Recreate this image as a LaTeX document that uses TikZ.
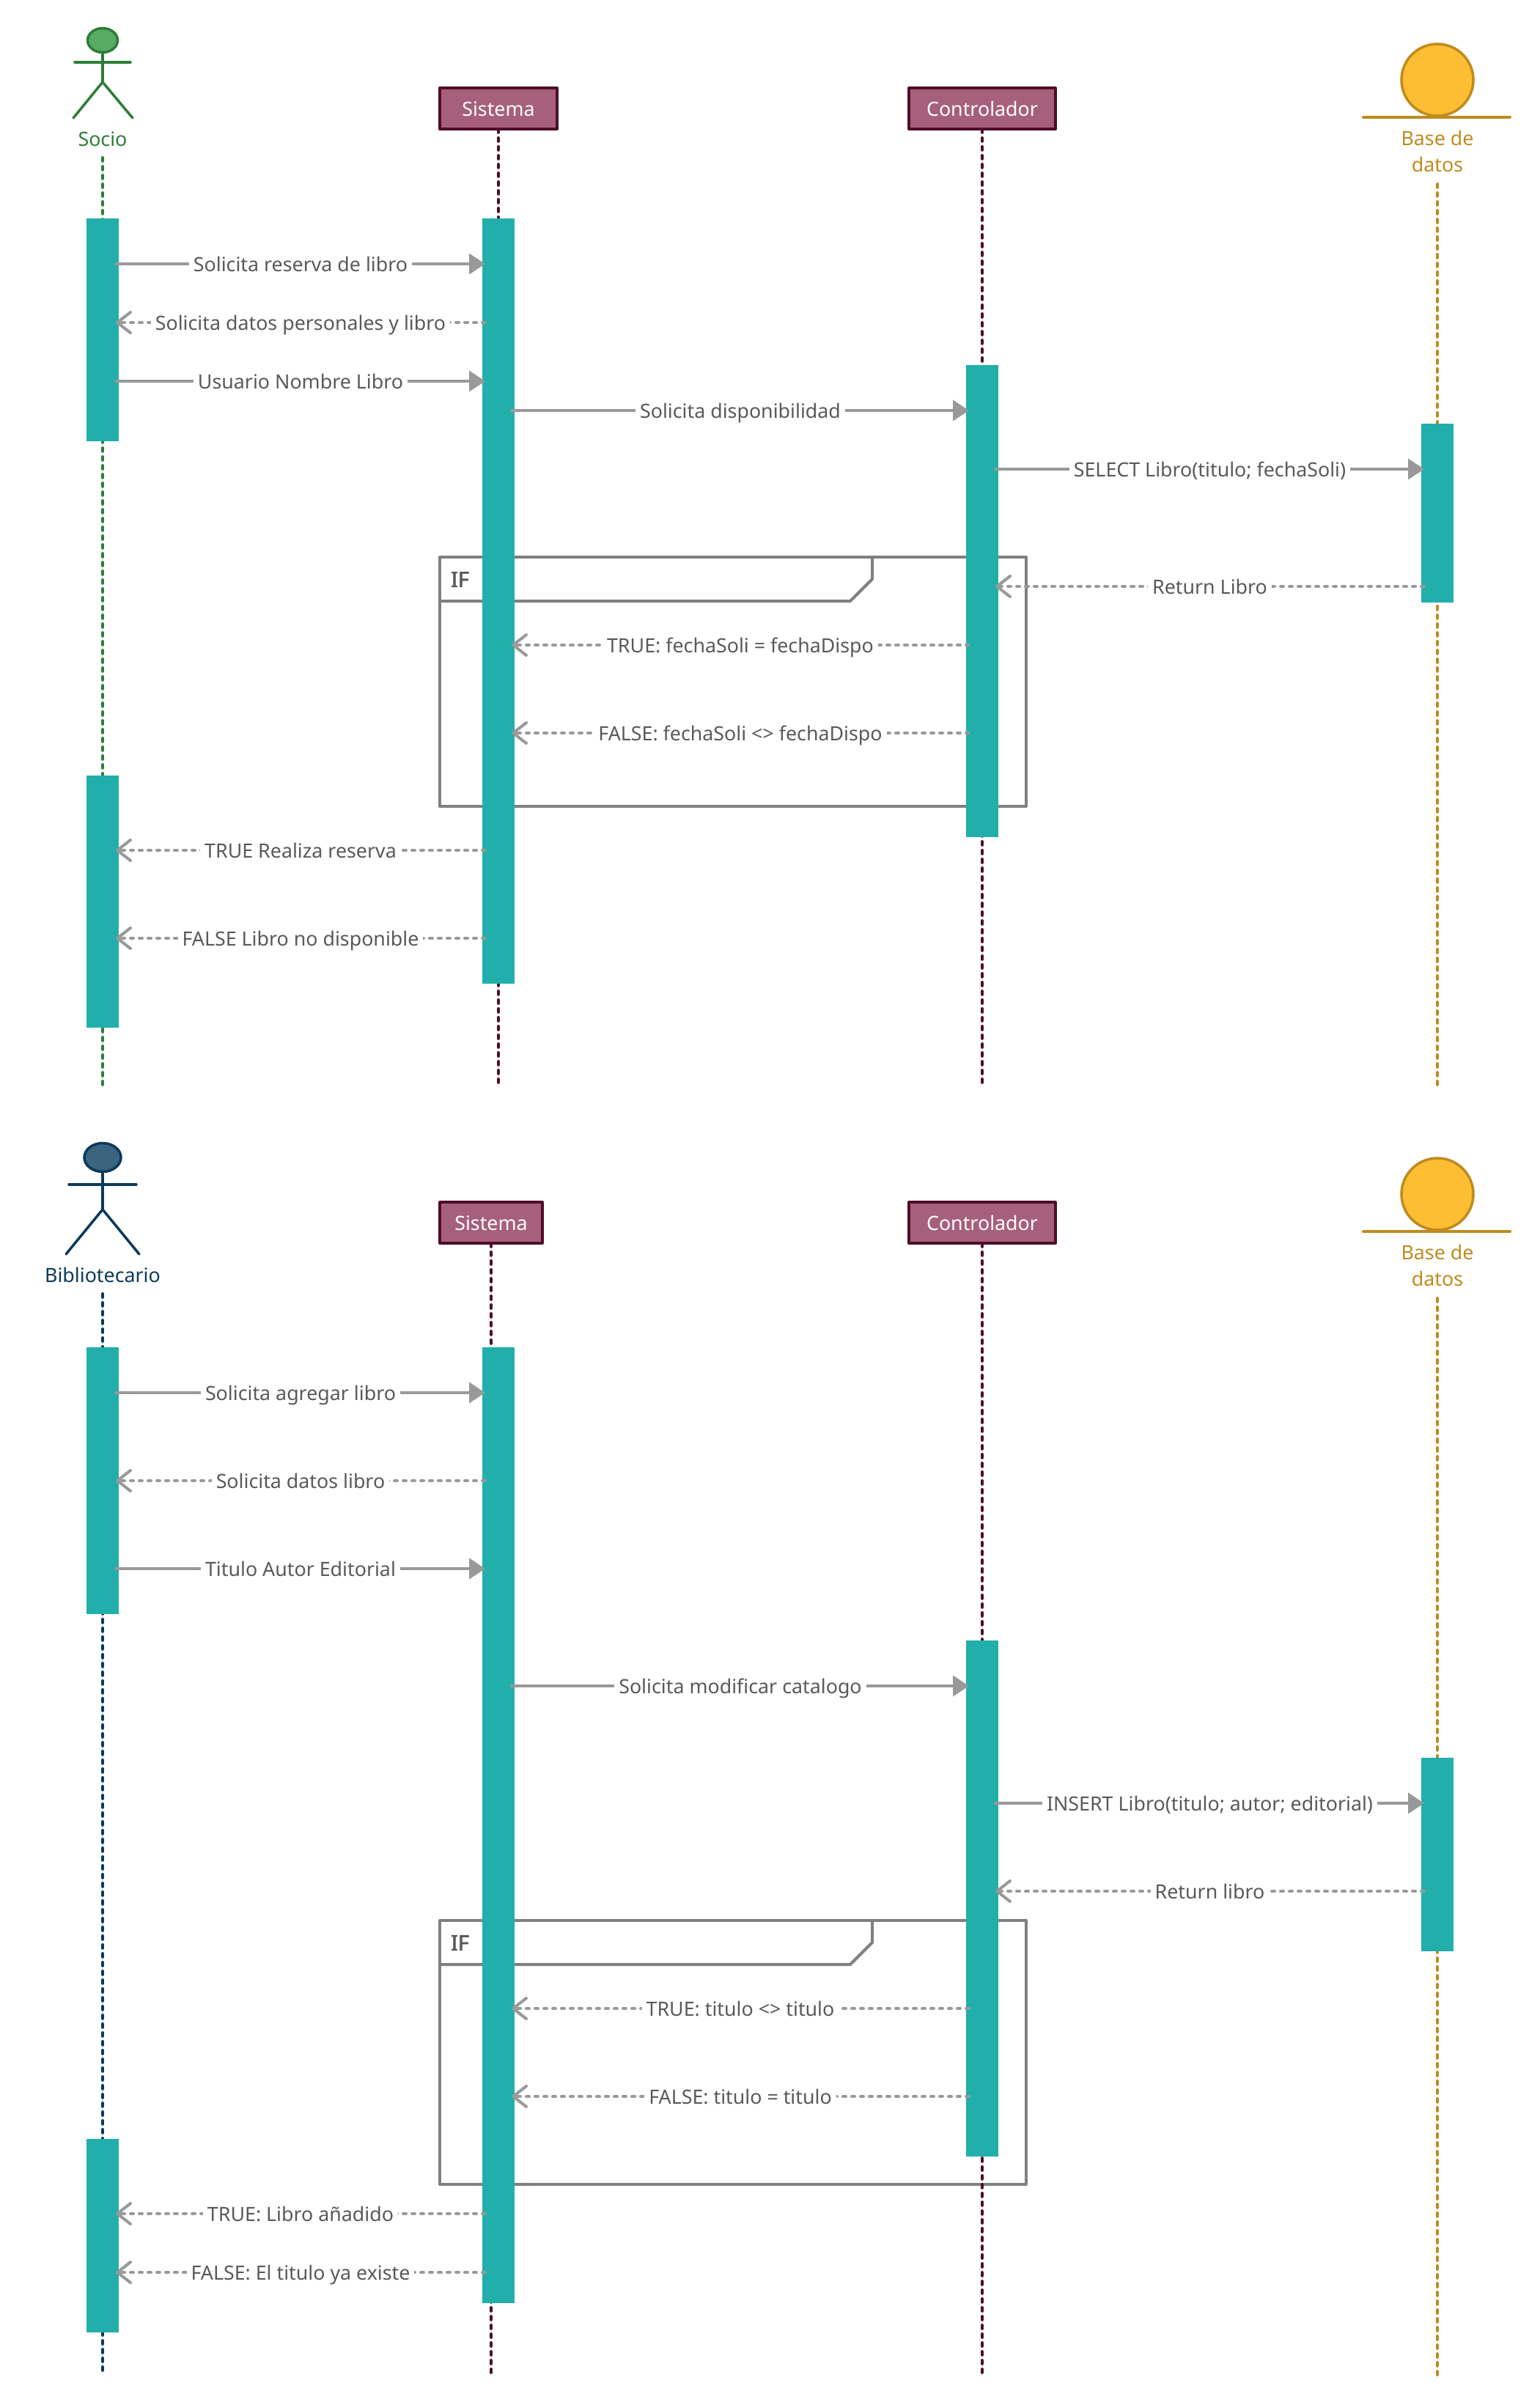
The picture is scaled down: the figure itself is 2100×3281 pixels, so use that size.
\documentclass[tikz,border=0pt]{standalone}
\usepackage{fontspec}
\setmainfont{Noto Sans}
\newfontfamily\ifheavy[FakeBold=2]{Noto Sans}
\usepackage{xcolor}
\usetikzlibrary{arrows.meta, shapes.geometric}

\definecolor{barteal}{HTML}{22AFAB}
\definecolor{msggray}{HTML}{999999}
\definecolor{msgtext}{HTML}{595959}
\definecolor{framegray}{HTML}{808080}
\definecolor{boxfill}{HTML}{A6607A}
\definecolor{boxline}{HTML}{4F0D29}
\definecolor{socioline}{HTML}{2E7D3A}
\definecolor{sociofill}{HTML}{57AB62}
\definecolor{biblioline}{HTML}{0A3A5C}
\definecolor{bibliofill}{HTML}{3B657F}
\definecolor{dbline}{HTML}{BF8B1E}
\definecolor{dbfill}{HTML}{FEBE33}

\tikzset{
	actbar/.style={rectangle,fill=barteal,minimum width=22pt,inner sep=0pt,outer sep=0pt},
	objbox/.style={rectangle,draw=boxline,fill=boxfill,line width=2pt,line join=round,text=white,font=\fontsize{13.4}{15}\selectfont,text height=10pt,text depth=0pt,minimum height=28pt,inner sep=0pt,outer sep=0pt},
	lifeline/.style={line width=2pt,line cap=round,dash pattern=on 2.4pt off 3.6pt},
	limb/.style={line width=1.75pt,line cap=round,line join=round},
	msglabel/.style={fill=white,text=msgtext,font=\fontsize{13.4}{15}\selectfont,text height=10pt,text depth=0pt,inner xsep=3pt,inner ysep=0pt,pos=0.5},
	sync/.style={msggray,line width=2pt,line cap=round,-{Triangle[length=11pt,width=14pt]}},
	reply/.style={msggray,line width=2pt,line cap=round,dash pattern=on 2pt off 4pt,-{Straight Barb[length=9pt,width=14pt,round,line width=2pt]}},
	frameline/.style={framegray,line width=2pt,line join=round},
	framebox/.style={rectangle,draw=framegray,line width=2pt,line join=round,minimum width=400pt,minimum height=170pt,inner sep=0pt,outer sep=0pt},
	iflabel/.style={text=msgtext,font=\ifheavy\fontsize{14.5}{15}\selectfont,inner sep=0pt},
	actorname/.style={font=\fontsize{13.4}{15}\selectfont,text height=10pt,text depth=0pt,inner sep=0pt},
	dbname/.style={text=dbline,align=center,font=\fontsize{13.4}{18}\selectfont,inner sep=0pt}
}

\begin{document}
\begin{tikzpicture}[x=0.5pt,y=-0.5pt]
	\useasboundingbox (0,0) rectangle (2100,3281);

	% reserva: frame first, bars go over it
	\node[framebox](frameA) at (1000,930) {};
	\draw[frameline] (600,820) -- (1160,820) -- (1190,790) -- (1190,760);
	\node[iflabel](ifA) at (627.5,790.5) {IF};

	% reserva: socio
	\node[ellipse,draw=socioline,fill=sociofill,line width=1.75pt,minimum width=20.5pt,minimum height=16.5pt,inner sep=0pt,outer sep=0pt](socioHead) at (140,55) {};
	\coordinate (socioArmL) at (102,85);
	\coordinate (socioArmR) at (178,85);
	\coordinate (socioHip) at (140,112);
	\coordinate (socioLegL) at (100,161);
	\coordinate (socioLegR) at (181,161);
	\draw[limb,socioline] (socioHead.south) -- (socioHip);
	\draw[limb,socioline] (socioArmL) -- (socioArmR);
	\draw[limb,socioline] (socioLegL) -- (socioHip) -- (socioLegR);
	\node[actorname,text=socioline](socioName) at (140,189) {Socio};

	% reserva: objects
	\node[objbox,minimum width=80pt](sistemaA) at (680,148) {Sistema};
	\node[objbox,minimum width=100pt](controlA) at (1340,148) {Controlador};
	\node[circle,draw=dbline,fill=dbfill,line width=1.75pt,minimum size=49pt,inner sep=0pt,outer sep=0pt](baseA) at (1961,109) {};
	\coordinate (baseLineAL) at (1860,160);
	\coordinate (baseLineAR) at (2060,160);
	\draw[limb,dbline,line width=2pt] (baseLineAL) -- (baseLineAR);
	\node[dbname](baseNameA) at (1961,206) {Base de\\datos};

	% reserva: lifelines
	\coordinate (socioTop) at (140,215);
	\coordinate (socioEnd) at (140,1480);
	\coordinate (sistemaEndA) at (680,1480);
	\coordinate (controlEndA) at (1340,1480);
	\coordinate (baseTopA) at (1961,251);
	\coordinate (baseEndA) at (1961,1480);
	\draw[lifeline,socioline] (socioTop) -- (socioEnd);
	\draw[lifeline,boxline] (sistemaA.south) -- (sistemaEndA);
	\draw[lifeline,boxline] (controlA.south) -- (controlEndA);
	\draw[lifeline,dbline] (baseTopA) -- (baseEndA);

	% reserva: activation bars
	\node[actbar,minimum height=152pt](socioBarA) at (140,450) {};
	\node[actbar,minimum height=172pt](socioBarB) at (140,1230) {};
	\node[actbar,minimum height=522pt](sistemaBarA) at (680,820) {};
	\node[actbar,minimum height=322pt](controlBarA) at (1340,820) {};
	\node[actbar,minimum height=122pt](baseBarA) at (1961,700) {};

	% reserva: messages
	\coordinate (p1) at (158,360);
	\coordinate (q1) at (662,360);
	\coordinate (p2) at (158,440);
	\coordinate (q2) at (662,440);
	\coordinate (p3) at (158,520);
	\coordinate (q3) at (662,520);
	\coordinate (p4) at (698,560);
	\coordinate (q4) at (1322,560);
	\coordinate (p5) at (1358,640);
	\coordinate (q5) at (1943,640);
	\coordinate (p6) at (1358,800);
	\coordinate (q6) at (1943,800);
	\coordinate (p7) at (698,880);
	\coordinate (q7) at (1322,880);
	\coordinate (p8) at (698,1000);
	\coordinate (q8) at (1322,1000);
	\coordinate (p9) at (158,1160);
	\coordinate (q9) at (662,1160);
	\coordinate (p10) at (158,1280);
	\coordinate (q10) at (662,1280);
	\draw[sync] (p1) -- node[msglabel](m1) {Solicita reserva de libro} (q1);
	\draw[reply] (q2) -- node[msglabel](m2) {Solicita datos personales y libro} (p2);
	\draw[sync] (p3) -- node[msglabel](m3) {Usuario Nombre Libro} (q3);
	\draw[sync] (p4) -- node[msglabel](m4) {Solicita disponibilidad} (q4);
	\draw[sync] (p5) -- node[msglabel](m5) {SELECT Libro(titulo; fechaSoli)} (q5);
	\draw[reply] (q6) -- node[msglabel](m6) {Return Libro} (p6);
	\draw[reply] (q7) -- node[msglabel](m7) {TRUE: fechaSoli = fechaDispo} (p7);
	\draw[reply] (q8) -- node[msglabel](m8) {FALSE: fechaSoli <> fechaDispo} (p8);
	\draw[reply] (q9) -- node[msglabel](m9) {TRUE Realiza reserva} (p9);
	\draw[reply] (q10) -- node[msglabel](m10) {FALSE Libro no disponible} (p10);

	% catalogo: frame first, bars go over it
	\node[framebox,minimum height=180pt](frameB) at (1000,2800) {};
	\draw[frameline] (600,2680) -- (1160,2680) -- (1190,2650) -- (1190,2620);
	\node[iflabel](ifB) at (627.5,2650.5) {IF};

	% catalogo: bibliotecario
	\node[ellipse,draw=biblioline,fill=bibliofill,line width=1.75pt,minimum width=25pt,minimum height=19.5pt,inner sep=0pt,outer sep=0pt](biblioHead) at (140,1579) {};
	\coordinate (biblioArmL) at (94,1616);
	\coordinate (biblioArmR) at (186,1616);
	\coordinate (biblioHip) at (140,1650);
	\coordinate (biblioLegL) at (90,1711);
	\coordinate (biblioLegR) at (190,1711);
	\draw[limb,biblioline] (biblioHead.south) -- (biblioHip);
	\draw[limb,biblioline] (biblioArmL) -- (biblioArmR);
	\draw[limb,biblioline] (biblioLegL) -- (biblioHip) -- (biblioLegR);
	\node[actorname,text=biblioline](biblioName) at (140,1739) {Bibliotecario};

	% catalogo: objects
	\node[objbox,minimum width=70pt](sistemaB) at (670,1668) {Sistema};
	\node[objbox,minimum width=100pt](controlB) at (1340,1668) {Controlador};
	\node[circle,draw=dbline,fill=dbfill,line width=1.75pt,minimum size=49pt,inner sep=0pt,outer sep=0pt](baseB) at (1961,1629) {};
	\coordinate (baseLineBL) at (1860,1680);
	\coordinate (baseLineBR) at (2060,1680);
	\draw[limb,dbline,line width=2pt] (baseLineBL) -- (baseLineBR);
	\node[dbname](baseNameB) at (1961,1726) {Base de\\datos};

	% catalogo: lifelines
	\coordinate (biblioTop) at (140,1765);
	\coordinate (biblioEnd) at (140,3240);
	\coordinate (sistemaEndB) at (670,3240);
	\coordinate (controlEndB) at (1340,3240);
	\coordinate (baseTopB) at (1961,1771);
	\coordinate (baseEndB) at (1961,3240);
	\draw[lifeline,biblioline] (biblioTop) -- (biblioEnd);
	\draw[lifeline,boxline] (sistemaB.south) -- (sistemaEndB);
	\draw[lifeline,boxline] (controlB.south) -- (controlEndB);
	\draw[lifeline,dbline] (baseTopB) -- (baseEndB);

	% catalogo: activation bars
	\node[actbar,minimum height=182pt](biblioBarA) at (140,2020) {};
	\node[actbar,minimum height=132pt](biblioBarB) at (140,3050) {};
	\node[actbar,minimum height=652pt](sistemaBarB) at (680,2490) {};
	\node[actbar,minimum height=352pt](controlBarB) at (1340,2590) {};
	\node[actbar,minimum height=132pt](baseBarB) at (1961,2530) {};

	% catalogo: messages
	\coordinate (r1) at (158,1900);
	\coordinate (t1) at (662,1900);
	\coordinate (r2) at (158,2020);
	\coordinate (t2) at (662,2020);
	\coordinate (r3) at (158,2140);
	\coordinate (t3) at (662,2140);
	\coordinate (r4) at (698,2300);
	\coordinate (t4) at (1322,2300);
	\coordinate (r5) at (1358,2460);
	\coordinate (t5) at (1943,2460);
	\coordinate (r6) at (1358,2580);
	\coordinate (t6) at (1943,2580);
	\coordinate (r7) at (698,2740);
	\coordinate (t7) at (1322,2740);
	\coordinate (r8) at (698,2860);
	\coordinate (t8) at (1322,2860);
	\coordinate (r9) at (158,3020);
	\coordinate (t9) at (662,3020);
	\coordinate (r10) at (158,3100);
	\coordinate (t10) at (662,3100);
	\draw[sync] (r1) -- node[msglabel](n1) {Solicita agregar libro} (t1);
	\draw[reply] (t2) -- node[msglabel](n2) {Solicita datos libro} (r2);
	\draw[sync] (r3) -- node[msglabel](n3) {Titulo Autor Editorial} (t3);
	\draw[sync] (r4) -- node[msglabel](n4) {Solicita modificar catalogo} (t4);
	\draw[sync] (r5) -- node[msglabel](n5) {INSERT Libro(titulo; autor; editorial)} (t5);
	\draw[reply] (t6) -- node[msglabel](n6) {Return libro} (r6);
	\draw[reply] (t7) -- node[msglabel](n7) {TRUE: titulo <> titulo~} (r7);
	\draw[reply] (t8) -- node[msglabel](n8) {FALSE: titulo = titulo~} (r8);
	\draw[reply] (t9) -- node[msglabel](n9) {TRUE: Libro añadido} (r9);
	\draw[reply] (t10) -- node[msglabel](n10) {FALSE: El titulo ya existe} (r10);
\end{tikzpicture}
\end{document}
